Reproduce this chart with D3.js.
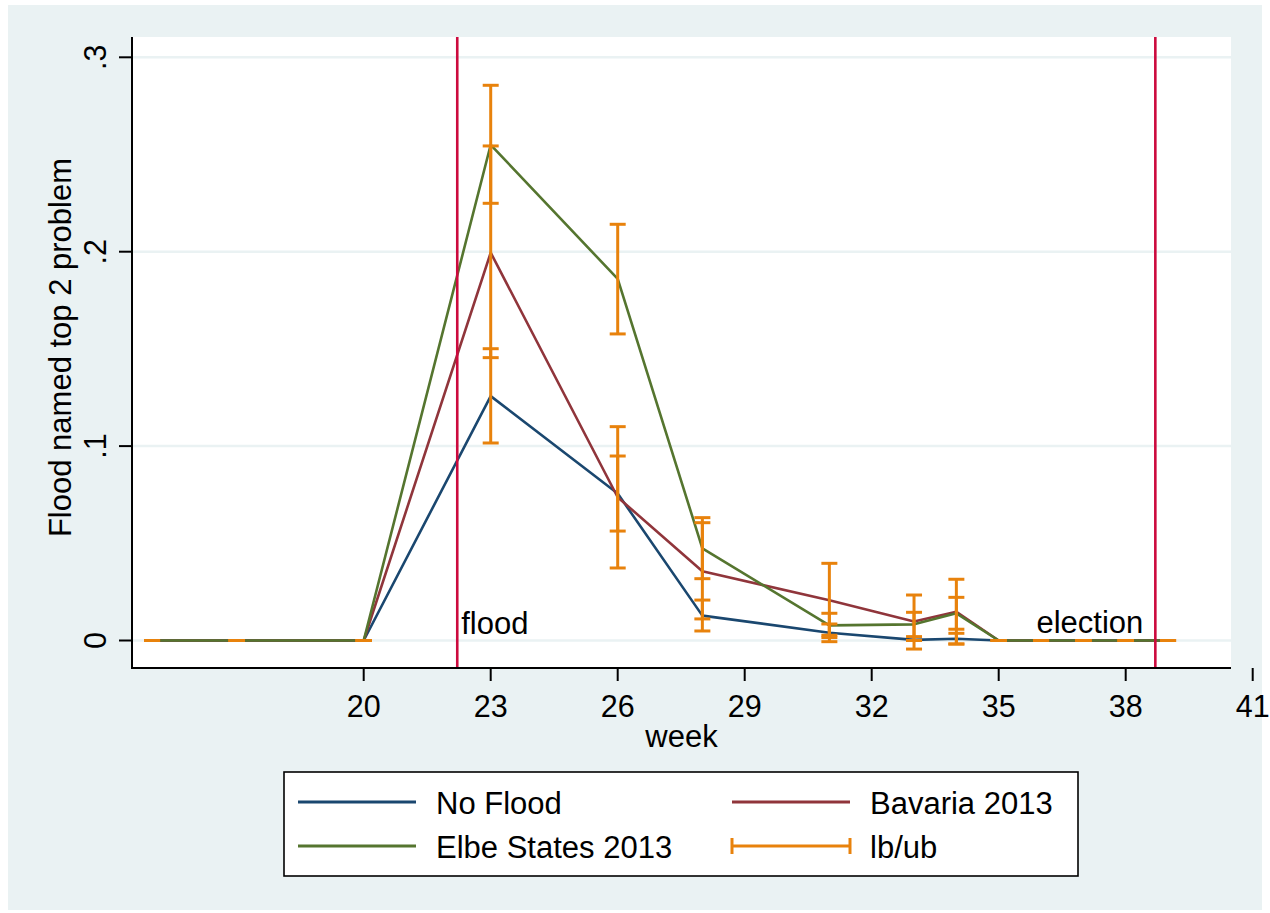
<!DOCTYPE html>
<html>
<head>
<meta charset="utf-8">
<script src="https://cdn.jsdelivr.net/npm/d3@7"></script>
<style>
  html, body { margin: 0; padding: 0; background: #ffffff; }
  svg { display: block; }
  text { font-family: "Liberation Sans", Arial, sans-serif; fill: #000; }
</style>
</head>
<body>
<svg id="chart" width="1270" height="913"></svg>
<script>
// Survey weeks and share naming the flood as a top-2 problem
const weeks = [15, 17, 20, 23, 26, 28, 31, 33, 34, 35, 36, 37, 38, 39];

const noFlood  = [0, 0, 0, 0.1257, 0.0756, 0.0128, 0.0040, 0.0003, 0.0009, 0, 0, 0, 0, 0];
const bavaria  = [0, 0, 0, 0.1995, 0.0737, 0.0356, 0.0207, 0.0098, 0.0148, 0, 0, 0, 0, 0];
const elbe     = [0, 0, 0, 0.2550, 0.1860, 0.0474, 0.0078, 0.0083, 0.0140, 0, 0, 0, 0, 0];

// Confidence bounds (lower / upper) per group
const noFloodLb = [0, 0, 0, 0.1016, 0.0563, 0.0049, -0.0006, 0, -0.0018, 0, 0, 0, 0, 0];
const noFloodUb = [0, 0, 0, 0.1501, 0.0949, 0.0208, 0.0085, 0, 0.0037, 0, 0, 0, 0, 0];
const bavariaLb = [0, 0, 0, 0.1455, 0.0373, 0.0111, 0.0015, -0.0044, -0.0018, 0, 0, 0, 0, 0];
const bavariaUb = [0, 0, 0, 0.2544, 0.1100, 0.0606, 0.0397, 0.0234, 0.0315, 0, 0, 0, 0, 0];
const elbeLb    = [0, 0, 0, 0.2249, 0.1577, 0.0318, 0.0027, 0.0020, 0.0058, 0, 0, 0, 0, 0];
const elbeUb    = [0, 0, 0, 0.2856, 0.2141, 0.0632, 0.0140, 0.0145, 0.0222, 0, 0, 0, 0, 0];

const xTicks = [20, 23, 26, 29, 32, 35, 38, 41];
const yTicks = [0, 0.1, 0.2, 0.3];
const yTickLabels = ["0", ".1", ".2", ".3"];

// Event markers (week of the flood and of the federal election)
const eventWeeks = [22.21, 38.70];
const eventLabels = ["flood", "election"];

const seriesNames = ["No Flood", "Bavaria 2013", "Elbe States 2013"];
const seriesColors = ["#1a476f", "#90353b", "#55752f"];
const capColor = "#e8820c";
const eventColor = "#cc0a3e";
const bgColor = "#eaf2f3";

const svg = d3.select("#chart");

// Plot region geometry
const plot = { left: 132, right: 1231, top: 37, bottom: 668 };

const x = d3.scaleLinear().domain([20, 41]).range([363.7, 1252.7]);
const y = d3.scaleLinear().domain([0, 0.3]).range([640.5, 57.3]);

// Graph background and plot area
svg.append("rect").attr("x", 8).attr("y", 5).attr("width", 1254).attr("height", 905).attr("fill", bgColor);
svg.append("rect").attr("x", plot.left).attr("y", plot.top)
  .attr("width", plot.right - plot.left).attr("height", plot.bottom - plot.top).attr("fill", "#ffffff");

// Horizontal grid lines
svg.append("g").selectAll("line").data(yTicks).join("line")
  .attr("x1", plot.left).attr("x2", plot.right)
  .attr("y1", d => y(d)).attr("y2", d => y(d))
  .attr("stroke", bgColor).attr("stroke-width", 2.5);

// Series lines
const lineGen = d3.line().x(d => x(d[0])).y(d => y(d[1]));
const allSeries = [noFlood, bavaria, elbe];
allSeries.forEach((vals, i) => {
  svg.append("path")
    .datum(weeks.map((w, j) => [w, vals[j]]))
    .attr("d", lineGen)
    .attr("fill", "none")
    .attr("stroke", seriesColors[i])
    .attr("stroke-width", 2.6)
    .attr("stroke-linejoin", "round");
});

// Event lines
svg.append("g").selectAll("line").data(eventWeeks).join("line")
  .attr("x1", d => x(d)).attr("x2", d => x(d))
  .attr("y1", plot.top).attr("y2", plot.bottom)
  .attr("stroke", eventColor).attr("stroke-width", 2.6);

// Range caps (lb/ub)
const bounds = [[noFloodLb, noFloodUb], [bavariaLb, bavariaUb], [elbeLb, elbeUb]];
const capHalf = 8;
const capG = svg.append("g").attr("stroke", capColor).attr("stroke-width", 3).attr("fill", "none");
bounds.forEach(([lb, ub]) => {
  weeks.forEach((w, j) => {
    const cx = x(w), y0 = y(lb[j]), y1 = y(ub[j]);
    capG.append("line").attr("x1", cx).attr("x2", cx).attr("y1", y0).attr("y2", y1);
    capG.append("line").attr("x1", cx - capHalf).attr("x2", cx + capHalf).attr("y1", y0).attr("y2", y0);
    capG.append("line").attr("x1", cx - capHalf).attr("x2", cx + capHalf).attr("y1", y1).attr("y2", y1);
  });
});

// Event labels
svg.append("text").attr("x", x(eventWeeks[0]) + 4).attr("y", 634)
  .attr("font-size", 31).text(eventLabels[0]);
svg.append("text").attr("x", x(eventWeeks[1]) - 12).attr("y", 633)
  .attr("font-size", 31).attr("text-anchor", "end").text(eventLabels[1]);

// Axes lines
svg.append("line").attr("x1", plot.left).attr("x2", plot.left)
  .attr("y1", plot.top).attr("y2", plot.bottom + 1)
  .attr("stroke", "#000").attr("stroke-width", 2);
svg.append("line").attr("x1", plot.left - 1).attr("x2", plot.right)
  .attr("y1", plot.bottom).attr("y2", plot.bottom)
  .attr("stroke", "#000").attr("stroke-width", 2);

// X ticks and labels
const xt = svg.append("g").selectAll("g").data(xTicks).join("g")
  .attr("transform", d => `translate(${x(d)},${plot.bottom})`);
xt.append("line").attr("y1", 0).attr("y2", 13).attr("stroke", "#000").attr("stroke-width", 2);
xt.append("text").attr("y", 717).attr("transform", `translate(0,${-plot.bottom})`)
  .attr("text-anchor", "middle").attr("font-size", 30.5).text(d => d);

// Y ticks and labels (rotated)
const yt = svg.append("g").selectAll("g").data(yTicks).join("g")
  .attr("transform", d => `translate(${plot.left},${y(d)})`);
yt.append("line").attr("x1", -13).attr("x2", 0).attr("stroke", "#000").attr("stroke-width", 2);
yt.append("text").attr("transform", "translate(-26,0) rotate(-90)")
  .attr("text-anchor", "middle").attr("font-size", 30.5)
  .text((d, i) => yTickLabels[i]);

// Axis titles
svg.append("text").attr("x", (plot.left + plot.right) / 2).attr("y", 747)
  .attr("text-anchor", "middle").attr("font-size", 31).text("week");
svg.append("text")
  .attr("transform", `translate(71,${(plot.top + plot.bottom) / 2 - 5}) rotate(-90)`)
  .attr("text-anchor", "middle").attr("font-size", 31).text("Flood named top 2 problem");

// Legend
const legend = svg.append("g");
legend.append("rect").attr("x", 284).attr("y", 772).attr("width", 794).attr("height", 104)
  .attr("fill", "#ffffff").attr("stroke", "#000").attr("stroke-width", 1.6);
const legendItems = [
  { name: seriesNames[0], color: seriesColors[0], col: 0, row: 0, caps: false },
  { name: seriesNames[1], color: seriesColors[1], col: 1, row: 0, caps: false },
  { name: seriesNames[2], color: seriesColors[2], col: 0, row: 1, caps: false },
  { name: "lb/ub", color: capColor, col: 1, row: 1, caps: true }
];
const colX = [298, 732];
const rowY = [802, 846];
legendItems.forEach(it => {
  const x0 = colX[it.col], x1 = x0 + 118, yy = rowY[it.row];
  legend.append("line").attr("x1", x0).attr("x2", x1).attr("y1", yy).attr("y2", yy)
    .attr("stroke", it.color).attr("stroke-width", it.caps ? 3 : 2.8);
  if (it.caps) {
    [x0, x1].forEach(cx => legend.append("line").attr("x1", cx).attr("x2", cx)
      .attr("y1", yy - 8).attr("y2", yy + 8).attr("stroke", it.color).attr("stroke-width", 3));
  }
  legend.append("text").attr("x", x1 + 20).attr("y", yy + 11.5)
    .attr("font-size", 31).text(it.name);
});
</script>
</body>
</html>
